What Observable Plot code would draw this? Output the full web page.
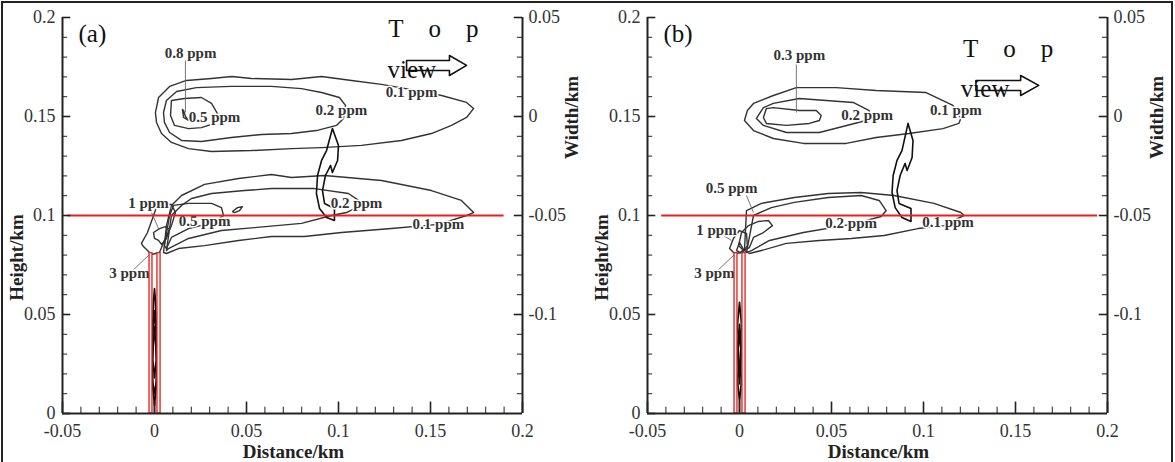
<!DOCTYPE html>
<html><head><meta charset="utf-8">
<script src="https://cdn.jsdelivr.net/npm/d3@7"></script>
<script src="https://cdn.jsdelivr.net/npm/@observablehq/plot@0.6"></script>
<style>
body{margin:0;background:#fff;}
#fig{position:relative;width:1175px;height:462px;overflow:hidden;background:#fff;}
#fig .panel{position:absolute;top:0;}
#frame{position:absolute;left:1px;top:1px;width:1172px;height:480px;border:2px solid #222;box-sizing:border-box;pointer-events:none;}
</style></head><body>
<div id="fig"><div id="pa" class="panel" style="left:0"></div><div id="pb" class="panel" style="left:585px"></div><div id="frame"></div></div>
<script>
// Axis ticks (km)
const distanceTicks = [-0.05, 0, 0.05, 0.1, 0.15, 0.2];
const heightTicks = [0, 0.05, 0.1, 0.15, 0.2];
const widthTicks = [0.05, 0, -0.05, -0.1];
const widthAtGround = -0.15;          // Width/km reading at Height/km = 0
const markerHeight = 0.1;             // red reference height
const stackTop = 0.081;               // top of the two red stack walls
const stackWalls = [[-0.0027, -0.0011], [0.0016, 0.0033]];

// ---------- (a) iso-concentration contours [distance, height] ----------
const aTop01 = [[0.0005,0.152],[0.0022,0.1596],[0.0082,0.1652],[0.0174,0.1682],[0.031,0.1692],[0.042,0.1702],[0.0527,0.1692],[0.0745,0.1687],[0.0908,0.1702],[0.1071,0.1682],[0.1234,0.1662],[0.1397,0.1636],[0.156,0.1606],[0.1696,0.1571],[0.1734,0.154],[0.1696,0.1495],[0.1614,0.1455],[0.1505,0.1414],[0.1342,0.1379],[0.1125,0.1354],[0.0908,0.1343],[0.0745,0.1338],[0.0527,0.1328],[0.031,0.1323],[0.0185,0.1338],[0.0092,0.1369],[0.0038,0.1414],[0.0011,0.147]];
const aTop02 = [[0.0049,0.152],[0.0065,0.1581],[0.012,0.1626],[0.0228,0.1646],[0.0418,0.1652],[0.0636,0.1652],[0.0799,0.1641],[0.0908,0.1621],[0.1005,0.1596],[0.1038,0.1556],[0.1027,0.149],[0.0989,0.1455],[0.088,0.1429],[0.0745,0.1414],[0.0582,0.1409],[0.0418,0.1394],[0.0255,0.1374],[0.0147,0.1379],[0.0082,0.1419],[0.0054,0.147]];
const aTop05 = [[0.0092,0.1581],[0.0163,0.1591],[0.0255,0.1596],[0.031,0.1566],[0.0348,0.1505],[0.0326,0.1465],[0.0255,0.1444],[0.0185,0.1439],[0.0109,0.1455],[0.0087,0.1505]];
const aTop08 = [[0.0152,0.1535],[0.0158,0.1495],[0.0185,0.148],[0.0168,0.15],[0.0158,0.153]];
const aLow01 = [[0.0049,0.0813],[0.0065,0.0949],[0.0092,0.1051],[0.0147,0.1101],[0.0272,0.1157],[0.0457,0.1187],[0.0636,0.1207],[0.0745,0.1192],[0.0924,0.1202],[0.1234,0.1177],[0.1505,0.1126],[0.1668,0.1076],[0.1734,0.1015],[0.1696,0.1],[0.1543,0.0955],[0.1288,0.0934],[0.1016,0.0914],[0.0815,0.0894],[0.0636,0.0894],[0.0457,0.0874],[0.0272,0.0848],[0.013,0.0833],[0.0065,0.0808]];
const aLow02 = [[0.0065,0.0823],[0.0092,0.1],[0.0147,0.1051],[0.0201,0.1086],[0.031,0.1111],[0.0489,0.1126],[0.0636,0.1136],[0.087,0.1136],[0.1054,0.1111],[0.1109,0.1076],[0.1109,0.1045],[0.1043,0.1015],[0.0962,0.1],[0.0799,0.096],[0.0543,0.0939],[0.0364,0.0924],[0.0185,0.0884],[0.0076,0.0833]];
const aLow05 = [[0.0054,0.0848],[0.0082,0.1],[0.0103,0.1051],[0.0185,0.1061],[0.031,0.1061],[0.0364,0.104],[0.0375,0.1],[0.0321,0.0965],[0.0185,0.0934],[0.0092,0.0889],[0.0065,0.0833]];
const aLow05b = [[0.0424,0.102],[0.0451,0.104],[0.0478,0.1045],[0.0462,0.1025],[0.0435,0.1015]];
const aLow1 = [[0.0016,0.1056],[0.0092,0.1056],[0.0114,0.1015],[0.0092,0.0949],[0.0054,0.0874],[0.0027,0.0813],[-0.0016,0.0803],[-0.006,0.0843],[-0.0071,0.0859],[-0.0038,0.0914],[-0.0011,0.0985]];
const aLow3 = [[-0.0005,0.0914],[0.0027,0.0934],[0.006,0.0944],[0.0082,0.0929],[0.0065,0.0884],[0.0038,0.0854],[0.0022,0.0874],[0,0.0884]];
const aStackOuter = [[0,0.0631],[0.0005,0.0571],[0.0011,0.0419],[0.0022,0.0293],[0.0016,0.0192],[0.0005,0.0091],[0,0.004],[-0.0005,0.0091],[-0.0016,0.0192],[-0.0022,0.0293],[-0.0011,0.0419],[-0.0005,0.0571]];
const aStackInner = [[0,0.052],[0.0011,0.038],[0.0016,0.028],[0.0008,0.015],[0,0.01],[-0.0008,0.015],[-0.0016,0.028],[-0.0011,0.038]];
const aStackCore = [[0,0.044],[0.0007,0.034],[0.0009,0.027],[0,0.018],[-0.0009,0.027],[-0.0007,0.034]];

// ---------- (b) iso-concentration contours ----------
const bTop01 = [[0.0027,0.148],[0.0043,0.153],[0.0076,0.1566],[0.0184,0.1606],[0.0309,0.1646],[0.0526,0.1646],[0.0743,0.1631],[0.1014,0.1621],[0.116,0.1556],[0.1203,0.149],[0.1192,0.1465],[0.1106,0.1439],[0.0921,0.1414],[0.0743,0.1394],[0.058,0.1364],[0.0347,0.1364],[0.0184,0.1389],[0.0076,0.1429]];
const bTop02 = [[0.0092,0.149],[0.013,0.1545],[0.0184,0.1566],[0.0325,0.1591],[0.0618,0.1571],[0.0705,0.153],[0.0705,0.149],[0.0688,0.148],[0.0434,0.1419],[0.0255,0.1419],[0.013,0.1455]];
const bTop03 = [[0.0146,0.154],[0.0184,0.1545],[0.0325,0.153],[0.0417,0.153],[0.0444,0.1505],[0.0434,0.148],[0.0379,0.1465],[0.0255,0.1455],[0.0146,0.1465],[0.013,0.1495]];
const bLow01 = [[0.0027,0.0823],[0.0038,0.1025],[0.0119,0.1061],[0.0298,0.1091],[0.0482,0.1111],[0.0661,0.1116],[0.084,0.1101],[0.1057,0.1061],[0.1203,0.1015],[0.122,0.1],[0.1176,0.098],[0.1111,0.0949],[0.097,0.0934],[0.0786,0.0899],[0.0607,0.0884],[0.0434,0.0874],[0.0255,0.0859],[0.0119,0.0823],[0.0054,0.0808]];
const bLow02 = [[0.0038,0.0813],[0.0076,0.1],[0.0173,0.104],[0.0298,0.1066],[0.0482,0.1091],[0.0661,0.1101],[0.0759,0.1076],[0.0797,0.1025],[0.077,0.0995],[0.0607,0.0955],[0.0347,0.0914],[0.0163,0.0874],[0.0065,0.0823]];
const bLow05 = [[-0.0005,0.0848],[0.0011,0.0914],[0.0049,0.0949],[0.0103,0.097],[0.0157,0.0975],[0.0179,0.0949],[0.013,0.0914],[0.0076,0.0889],[0.0054,0.0838],[0.0022,0.0823]];
const bLow1 = [[-0.0054,0.0833],[-0.0033,0.0884],[0,0.0924],[0.0038,0.0909],[0.0043,0.0848],[0.0016,0.0813],[-0.0027,0.0808]];
const bLow3 = [[-0.0016,0.0823],[0,0.0864],[0.0022,0.0828],[0.0005,0.0813]];
const bStackOuter = [[0,0.0561],[0.0008,0.048],[0.0016,0.038],[0.0022,0.031],[0.0014,0.02],[0.0005,0.011],[0,0.006],[-0.0005,0.011],[-0.0014,0.02],[-0.0022,0.031],[-0.0016,0.038],[-0.0008,0.048]];
const bStackInner = [[0,0.045],[0.0011,0.034],[0.0006,0.022],[0,0.015],[-0.0006,0.022],[-0.0011,0.034]];
const bStackCore = [[0,0.04],[0.0007,0.033],[0.0004,0.025],[0,0.02],[-0.0004,0.025],[-0.0007,0.033]];
const stackStub = [[0,0.0055],[0,0.0005]];

// curved arrows between top view and side view
const aBend = [[0.0967,0.1439],[0.1,0.1354],[0.0995,0.1278],[0.0967,0.1217],[0.0957,0.1253],[0.0929,0.1202],[0.0913,0.1126],[0.0924,0.1061],[0.0978,0.1035],[0.0978,0.0975],[0.0935,0.099],[0.0897,0.1035],[0.088,0.1111],[0.0886,0.1202],[0.0908,0.1278],[0.0935,0.1328]];
const bBend = [[0.0916,0.1465],[0.0943,0.1379],[0.0938,0.1293],[0.0911,0.1227],[0.09,0.1263],[0.0873,0.1202],[0.0856,0.1126],[0.0867,0.1061],[0.0932,0.1035],[0.0932,0.097],[0.0883,0.099],[0.0846,0.104],[0.0829,0.1116],[0.0835,0.1202],[0.0856,0.1278],[0.0883,0.1328]];
// hollow "top view" arrows
const aViewArrow = [[0.137,0.1783],[0.1603,0.1783],[0.1603,0.1808],[0.1696,0.1758],[0.1603,0.1707],[0.1603,0.1732],[0.137,0.1732]];
const bViewArrow = [[0.1285,0.1682],[0.1528,0.1682],[0.1528,0.1707],[0.1626,0.1657],[0.1528,0.1606],[0.1528,0.1631],[0.1285,0.1631]];

// contour labels
const aLabels = [
  {text: "0.8 ppm", x: 0.0196, y: 0.1818, anchor: "middle"},
  {text: "0.5 ppm", x: 0.0326, y: 0.1495, anchor: "start"},
  {text: "0.2 ppm", x: 0.1016, y: 0.153, anchor: "start"},
  {text: "0.1 ppm", x: 0.1397, y: 0.1621, anchor: "start"},
  {text: "1 ppm", x: -0.0033, y: 0.1061, anchor: "end"},
  {text: "0.5 ppm", x: 0.0272, y: 0.097, anchor: "start"},
  {text: "0.2 ppm", x: 0.1098, y: 0.1061, anchor: "start"},
  {text: "0.1 ppm", x: 0.1543, y: 0.0955, anchor: "start"},
  {text: "3 ppm", x: -0.0136, y: 0.0707, anchor: "end"}
];
const aLeaders = [
  {x1: 0.0168, y1: 0.1783, x2: 0.0168, y2: 0.152},
  {x1: -0.0033, y1: 0.1051, x2: 0.0022, y2: 0.0934},
  {x1: -0.0136, y1: 0.0707, x2: -0.0027, y2: 0.0803}
];
const bLabels = [
  {text: "0.3 ppm", x: 0.0325, y: 0.1808, anchor: "middle"},
  {text: "0.2 ppm", x: 0.0694, y: 0.1505, anchor: "start"},
  {text: "0.1 ppm", x: 0.1176, y: 0.153, anchor: "start"},
  {text: "0.5 ppm", x: -0.0043, y: 0.1136, anchor: "middle"},
  {text: "1 ppm", x: -0.0125, y: 0.0924, anchor: "end"},
  {text: "3 ppm", x: -0.0136, y: 0.0707, anchor: "end"},
  {text: "0.2 ppm", x: 0.0607, y: 0.096, anchor: "start"},
  {text: "0.1 ppm", x: 0.1133, y: 0.0965, anchor: "start"}
];
const bLeaders = [
  {x1: 0.0309, y1: 0.1773, x2: 0.0309, y2: 0.152},
  {x1: 0.0038, y1: 0.1101, x2: 0.0076, y2: 0.1015},
  {x1: -0.0114, y1: 0.0914, x2: -0.0043, y2: 0.0874},
  {x1: -0.0136, y1: 0.0707, x2: -0.0027, y2: 0.0803}
];

const serif = "Liberation Serif, Times New Roman, serif";
const ink = "#2b2b2b";

function rings(list) {
  const out = [];
  list.forEach((pts, i) => pts.concat([pts[0]]).forEach(([x, y]) => out.push({id: i, x, y})));
  return out;
}
function path(pts) { return pts.map(([x, y]) => ({x, y})); }

function panel(cfg) {
  const xMin = distanceTicks[0], xMax = distanceTicks[distanceTicks.length - 1];
  const minorX = d3.range(-5, 21).map(k => k / 100);
  const minorY = d3.range(0, 21).map(k => k / 100);
  const tx = 0.0045, txs = 0.0028;   // horizontal tick lengths (km)
  const ty = 0.0058, tys = 0.0032;   // vertical tick lengths (km)
  return Plot.plot({
    width: 585, height: 462,
    marginLeft: 62, marginRight: 63, marginTop: 17, marginBottom: 49,
    style: {fontFamily: serif, fontSize: "18px", color: ink, background: "white", overflow: "visible"},
    x: {domain: [xMin, xMax]},
    y: {domain: [0, 0.2]},
    marks: [
      Plot.line(rings(cfg.contours), {x: "x", y: "y", z: "id", stroke: "#333", strokeWidth: 1.4}),
      Plot.line(rings(cfg.stack), {x: "x", y: "y", z: "id", stroke: "#111", strokeWidth: 1.7}),
      Plot.line(path(stackStub), {x: "x", y: "y", stroke: "#222", strokeWidth: 1.6}),
      Plot.line(path(cfg.bend.concat([cfg.bend[0]])), {x: "x", y: "y", stroke: "#111", strokeWidth: 1.6}),
      Plot.link(cfg.leaders, {x1: "x1", y1: "y1", x2: "x2", y2: "y2", stroke: "#666", strokeWidth: 0.9}),
      Plot.text(cfg.labels, {x: "x", y: "y", text: "text", textAnchor: d => d.anchor, fontWeight: "bold", fontSize: 15, fill: "#333", stroke: "white", strokeWidth: 3}),
      Plot.rect(stackWalls, {x1: d => d[0], x2: d => d[1], y1: 0, y2: stackTop, stroke: "#e0201b", strokeWidth: 1.3, fill: "#fff6f6"}),
      Plot.ruleY([markerHeight], {x1: cfg.redFrom, x2: cfg.redTo, stroke: "#ee1c1c", strokeWidth: 2.2}),
      // top-view annotation
      Plot.text(["T\u2003o\u2003p"], {x: cfg.topX, y: cfg.topY, text: d => d, textAnchor: "start", fontSize: 25, fill: "#111"}),
      Plot.text(["view"], {x: cfg.viewX, y: cfg.viewY, text: d => d, textAnchor: "start", fontSize: 25, fill: "#111"}),
      Plot.line(path(cfg.viewArrow.concat([cfg.viewArrow[0]])), {x: "x", y: "y", stroke: "#111", strokeWidth: 1.6}),
      Plot.text([cfg.tag], {x: xMin, y: 0.2, dx: 16, dy: 16, text: d => d, textAnchor: "start", fontSize: 25, fill: "#111"}),
      // frame lines
      Plot.ruleY([0], {x1: xMin, x2: xMax, stroke: "#222", strokeWidth: 2}),
      Plot.ruleX([xMin, xMax], {y1: 0, y2: 0.2, stroke: "#222", strokeWidth: 2}),
      // inward ticks
      Plot.ruleX(minorX, {x: d => d, y1: 0, y2: tys, stroke: "#222", strokeWidth: 1}),
      Plot.ruleX(distanceTicks, {x: d => d, y1: 0, y2: ty, stroke: "#222", strokeWidth: 1.6}),
      Plot.ruleY(minorY, {y: d => d, x1: xMin, x2: xMin + txs, stroke: "#222", strokeWidth: 1}),
      Plot.ruleY(heightTicks, {y: d => d, x1: xMin, x2: xMin + tx, stroke: "#222", strokeWidth: 1.6}),
      Plot.ruleY(minorY, {y: d => d, x1: xMax - txs, x2: xMax, stroke: "#222", strokeWidth: 1}),
      Plot.ruleY(widthTicks.map(w => w - widthAtGround), {y: d => d, x1: xMax - tx, x2: xMax, stroke: "#222", strokeWidth: 1.6}),
      // tick labels
      Plot.axisX({ticks: distanceTicks, tickSize: 0, tickPadding: 11, tickFormat: d => String(d), label: null, fill: "#333"}),
      Plot.axisY({ticks: heightTicks, tickSize: 0, tickPadding: 7, tickFormat: d => String(d), label: null, fill: "#333"}),
      Plot.axisY({anchor: "right", ticks: widthTicks.map(w => w - widthAtGround), tickSize: 0, tickPadding: 6,
        tickFormat: d => String(+(d + widthAtGround).toFixed(2)), label: null, fill: "#333"}),
      // axis titles
      Plot.text(["Distance/km"], {x: 0.0755, y: 0, dy: 38, text: d => d, fontWeight: "bold", fontSize: 19, fill: "#222"}),
      Plot.text(["Height/km"], {x: xMin, y: 0.0788, dx: -46, text: d => d, rotate: -90, fontWeight: "bold", fontSize: 19, fill: "#222"}),
      Plot.text(["Width/km"], {x: xMax, y: 0.1495, dx: 49, text: d => d, rotate: -90, fontWeight: "bold", fontSize: 19, fill: "#222"})
    ]
  });
}

document.getElementById("pa").append(panel({
  tag: "(a)",
  contours: [aTop01, aTop02, aTop05, aTop08, aLow01, aLow02, aLow05, aLow05b, aLow1, aLow3],
  stack: [aStackOuter, aStackInner, aStackCore],
  bend: aBend, viewArrow: aViewArrow,
  labels: aLabels, leaders: aLeaders,
  redFrom: -0.047, redTo: 0.19,
  topX: 0.127, topY: 0.1944, viewX: 0.1266, viewY: 0.1737
}));
document.getElementById("pb").append(panel({
  tag: "(b)",
  contours: [bTop01, bTop02, bTop03, bLow01, bLow02, bLow05, bLow1, bLow3],
  stack: [bStackOuter, bStackInner, bStackCore],
  bend: bBend, viewArrow: bViewArrow,
  labels: bLabels, leaders: bLeaders,
  redFrom: -0.0423, redTo: 0.1946,
  topX: 0.1214, topY: 0.1843, viewX: 0.1203, viewY: 0.1641
}));
</script>
</body></html>
